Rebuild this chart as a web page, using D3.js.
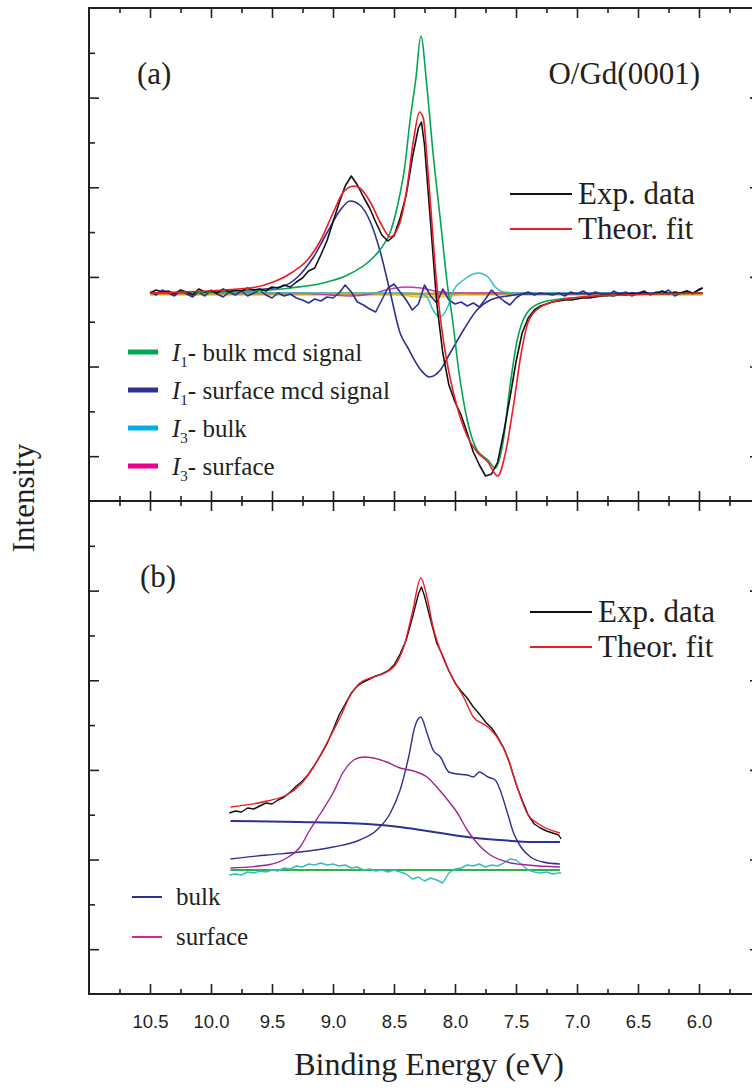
<!DOCTYPE html>
<html>
<head>
<meta charset="utf-8">
<script src="https://cdn.jsdelivr.net/npm/d3@7"></script>
<style>
body { margin: 0; background: #fff; }
svg { display: block; }
.serif { font-family: "Liberation Serif", "Times New Roman", serif; fill: #231f20; }
.ticklab text { font-family: "Liberation Sans", Arial, sans-serif; font-size: 18.5px; fill: #231f20; }
</style>
</head>
<body>
<script>
// ---- data (energies in eV, intensities in arb. units) ----
var xMajor = [10.5, 10.0, 9.5, 9.0, 8.5, 8.0, 7.5, 7.0, 6.5, 6.0];
var xMinor = [10.75, 10.25, 9.75, 9.25, 8.75, 8.25, 7.75, 7.25, 6.75, 6.25, 5.75];
var xTickLabels = ["10.5", "10.0", "9.5", "9.0", "8.5", "8.0", "7.5", "7.0", "6.5", "6.0"];

// panel (a): MCD
var energyTop = [10.50, 10.45, 10.40, 10.35, 10.30, 10.25, 10.20, 10.15, 10.10, 10.05,
    10.00, 9.95, 9.90, 9.85, 9.80, 9.75, 9.70, 9.65, 9.60, 9.55,
    9.50, 9.45, 9.40, 9.35, 9.30, 9.25, 9.20, 9.15, 9.10, 9.05,
    9.00, 8.95, 8.90, 8.85, 8.80, 8.75, 8.70, 8.65, 8.60, 8.55,
    8.50, 8.45, 8.40, 8.35, 8.30, 8.275, 8.25, 8.20, 8.15, 8.10, 8.05,
    8.00, 7.95, 7.90, 7.85, 7.80, 7.75, 7.70, 7.65, 7.60, 7.55,
    7.50, 7.45, 7.40, 7.35, 7.30, 7.25, 7.20, 7.15, 7.10, 7.05,
    7.00, 6.95, 6.90, 6.85, 6.80, 6.75, 6.70, 6.65, 6.60, 6.55,
    6.50, 6.45, 6.40, 6.35, 6.30, 6.25, 6.20, 6.15, 6.10, 6.05,
    6.00, 5.97];
var expTop = [0.00, 0.03, 0.01, 0.02, -0.01, 0.03, 0.01, -0.02, 0.04, 0.01,
    0.02, 0.00, 0.04, 0.01, 0.03, 0.02, 0.05, 0.03, 0.04, 0.02,
    0.06, 0.05, 0.08, 0.06, 0.11, 0.15, 0.22, 0.25, 0.38, 0.52,
    0.71, 0.90, 1.07, 1.17, 1.08, 0.96, 0.85, 0.71, 0.58, 0.52,
    0.57, 0.75, 0.98, 1.35, 1.65, 1.71, 1.48, 0.70, -0.10, -0.60, -0.92,
    -1.09, -1.22, -1.40, -1.59, -1.72, -1.83, -1.81, -1.69, -1.39, -1.05,
    -0.69, -0.40, -0.25, -0.17, -0.13, -0.11, -0.09, -0.08, -0.07, -0.07,
    -0.06, -0.05, -0.05, -0.04, -0.03, -0.02, -0.03, -0.01, -0.02, 0.00,
    -0.01, 0.01, -0.01, 0.00, 0.02, -0.01, 0.01, 0.00, 0.02, 0.00,
    0.03, 0.05];
var residTop = [0.01, -0.02, 0.03, 0.00, -0.03, 0.02, -0.01, -0.04, 0.01, -0.03,
    0.03, -0.01, -0.04, 0.01, -0.02, 0.02, -0.03, 0.00, 0.03, -0.02,
    -0.05, 0.00, -0.03, -0.01, -0.05, -0.07, -0.10, -0.06, -0.08, -0.04,
    -0.05, 0.00, 0.08, 0.01, -0.09, -0.12, -0.16, -0.19, -0.07, 0.05,
    0.09, 0.01, -0.07, -0.17, -0.11, -0.02, 0.08, -0.03, -0.10, 0.04, -0.07,
    -0.11, -0.09, -0.13, -0.10, -0.14, -0.06, 0.03, -0.03, -0.08, -0.12,
    -0.05, -0.01, 0.01, -0.02, 0.00, -0.01, -0.02, 0.00, -0.03, 0.01,
    -0.01, 0.02, -0.02, 0.01, -0.01, -0.03, 0.02, -0.01, 0.01, -0.03,
    0.00, 0.02, -0.02, 0.01, -0.01, 0.03, -0.03, 0.00, 0.02, -0.01,
    0.04, 0.05];

var fitTopE = [10.50, 9.68, 9.49, 9.33, 9.21, 9.10, 9.00, 8.92, 8.83, 8.78, 8.69, 8.61, 8.53, 8.45, 8.39, 8.34, 8.29, 8.26, 8.23, 8.20,
    8.16, 8.12, 8.08, 8.04, 7.98, 7.90, 7.82, 7.73, 7.65, 7.59, 7.52, 7.46, 7.40, 7.30, 7.14, 6.97, 6.64, 5.97];
var fitTopV = [0.00, 0.05, 0.11, 0.21, 0.33, 0.53, 0.80, 1.00, 1.07, 1.05, 0.90, 0.70, 0.56, 0.71, 1.08, 1.53, 1.81, 1.75, 1.35, 0.88,
    0.23, -0.25, -0.59, -0.85, -1.15, -1.43, -1.59, -1.69, -1.83, -1.62, -1.12, -0.62, -0.29, -0.14, -0.07, -0.04, -0.02, 0.00];

var i1BulkE = [10.50, 9.68, 9.35, 9.08, 8.88, 8.72, 8.61, 8.53, 8.47, 8.41, 8.37, 8.32, 8.28, 8.23, 8.18, 8.12,
    8.06, 8.02, 7.97, 7.90, 7.82, 7.73, 7.67, 7.60, 7.55, 7.49, 7.41, 7.30, 7.14, 6.91, 6.64, 5.97];
var i1BulkV = [0.00, 0.02, 0.05, 0.10, 0.18, 0.30, 0.44, 0.61, 0.88, 1.28, 1.71, 2.15, 2.57, 2.06, 1.40, 0.73,
    0.06, -0.27, -0.77, -1.27, -1.57, -1.67, -1.75, -1.44, -0.94, -0.47, -0.20, -0.10, -0.06, -0.04, -0.02, 0.00];

var i1SurfE = [10.50, 9.68, 9.43, 9.29, 9.16, 9.05, 8.94, 8.86, 8.78, 8.69, 8.61, 8.53, 8.45, 8.39, 8.28, 8.21,
    8.12, 8.04, 7.93, 7.82, 7.71, 7.57, 7.41, 5.97];
var i1SurfV = [0.00, 0.03, 0.06, 0.16, 0.36, 0.60, 0.83, 0.92, 0.88, 0.70, 0.40, 0.00, -0.40, -0.54, -0.77, -0.84,
    -0.77, -0.60, -0.37, -0.17, -0.07, -0.03, -0.01, 0.00];

var i3BulkE = [10.50, 8.45, 8.28, 8.23, 8.18, 8.12, 8.06, 8.01, 7.93, 7.81, 7.73, 7.67, 7.60, 7.46, 5.97];
var i3BulkV = [0.00, 0.00, -0.01, -0.04, -0.17, -0.24, -0.14, 0.03, 0.13, 0.20, 0.16, 0.06, 0.01, 0.00, 0.00];

var i3SurfE = [10.50, 9.27, 9.02, 8.86, 8.69, 8.53, 8.41, 8.28, 8.12, 7.97, 5.97];
var i3SurfV = [0.00, 0.00, -0.02, -0.03, -0.01, 0.04, 0.06, 0.05, 0.01, 0.00, 0.00];

var otherE = [10.50, 8.61, 8.45, 8.28, 8.12, 7.97, 7.82, 5.97];
var otherV = [0.00, 0.00, -0.02, -0.04, -0.04, -0.02, 0.00, 0.00];

var baseTopE = [10.50, 5.97];
var baseTopV = [-0.01, -0.01];

// panel (b): photoemission spectrum
var energyBot = [9.85, 9.80, 9.75, 9.70, 9.65, 9.60, 9.55, 9.50, 9.45, 9.40,
    9.35, 9.30, 9.25, 9.20, 9.15, 9.10, 9.05, 9.00, 8.95, 8.90,
    8.85, 8.80, 8.75, 8.70, 8.65, 8.60, 8.55, 8.50, 8.45, 8.40,
    8.35, 8.30, 8.275, 8.25, 8.20, 8.15, 8.10, 8.05, 8.00, 7.95,
    7.90, 7.85, 7.80, 7.75, 7.70, 7.65, 7.60, 7.55, 7.50, 7.45,
    7.40, 7.35, 7.30, 7.25, 7.20, 7.15, 7.13];
var expBot = [0.57, 0.59, 0.58, 0.62, 0.61, 0.64, 0.67, 0.66, 0.70, 0.73,
    0.78, 0.84, 0.89, 0.96, 1.05, 1.15, 1.26, 1.40, 1.55, 1.66,
    1.77, 1.84, 1.88, 1.91, 1.94, 1.96, 1.99, 2.05, 2.16, 2.30,
    2.52, 2.76, 2.83, 2.74, 2.50, 2.27, 2.14, 1.99, 1.87, 1.79,
    1.72, 1.63, 1.56, 1.48, 1.42, 1.33, 1.22, 1.06, 0.86, 0.70,
    0.55, 0.46, 0.42, 0.39, 0.37, 0.35, 0.31];
var residBot = [-0.05, -0.04, -0.05, -0.02, -0.03, -0.01, -0.02, 0.00, -0.01, 0.02,
    0.01, 0.04, 0.03, 0.06, 0.05, 0.07, 0.05, 0.06, 0.04, 0.05,
    0.02, 0.03, 0.00, 0.01, -0.01, 0.00, -0.02, 0.00, -0.02, -0.04,
    -0.09, -0.07, -0.09, -0.11, -0.08, -0.10, -0.13, -0.03, 0.01, 0.02,
    0.05, 0.04, 0.06, 0.03, 0.05, 0.04, 0.07, 0.11, 0.10, 0.05,
    0.00, -0.02, -0.03, -0.02, -0.04, -0.03, -0.03];

var fitBotE = [9.84, 9.54, 9.38, 9.27, 9.16, 9.05, 8.94, 8.86, 8.78, 8.67, 8.56, 8.49, 8.42, 8.35, 8.28, 8.23, 8.18, 8.10,
    8.01, 7.93, 7.85, 7.73, 7.65, 7.57, 7.49, 7.41, 7.30, 7.14];
var fitBotV = [0.63, 0.69, 0.75, 0.85, 1.03, 1.27, 1.53, 1.74, 1.87, 1.93, 1.98, 2.05, 2.23, 2.57, 2.92, 2.73, 2.43, 2.13,
    1.90, 1.73, 1.53, 1.43, 1.32, 1.13, 0.83, 0.57, 0.45, 0.37];

var bulkBotE = [9.84, 9.54, 9.27, 9.00, 8.78, 8.64, 8.53, 8.45, 8.38, 8.33, 8.28, 8.23, 8.18, 8.12, 8.05, 7.98, 7.90, 7.85,
    7.80, 7.73, 7.67, 7.63, 7.57, 7.52, 7.46, 7.38, 7.28, 7.14];
var bulkBotV = [0.11, 0.15, 0.18, 0.23, 0.30, 0.40, 0.57, 0.80, 1.13, 1.43, 1.53, 1.37, 1.20, 1.13, 0.98, 0.96, 0.95, 0.93,
    0.98, 0.93, 0.90, 0.80, 0.57, 0.37, 0.23, 0.13, 0.08, 0.06];

var surfBotE = [9.84, 9.54, 9.38, 9.27, 9.19, 9.10, 9.00, 8.92, 8.83, 8.75, 8.67, 8.56, 8.45, 8.34, 8.23, 8.15, 8.06, 7.98,
    7.90, 7.82, 7.71, 7.57, 7.41, 7.14];
var surfBotV = [0.02, 0.05, 0.12, 0.23, 0.40, 0.57, 0.77, 0.97, 1.10, 1.13, 1.12, 1.08, 1.02, 0.99, 0.93, 0.83, 0.70, 0.57,
    0.40, 0.27, 0.15, 0.08, 0.05, 0.03];

var bgBotE = [9.84, 9.27, 8.72, 8.45, 8.28, 8.12, 7.90, 7.63, 7.36, 7.14];
var bgBotV = [0.49, 0.48, 0.46, 0.43, 0.40, 0.37, 0.33, 0.30, 0.28, 0.28];

var zeroBotE = [9.84, 7.14];
var zeroBotV = [0.00, 0.00];

var fitLegend = ["Exp. data", "Theor. fit"];
var mcdLegend = [["1", "- bulk mcd signal"], ["1", "- surface mcd signal"], ["3", "- bulk"], ["3", "- surface"]];
var specLegend = ["bulk", "surface"];

// ---- drawing ----
var width = 752;
var height = 1090;
var svg = d3.select("body").append("svg").attr("width", width).attr("height", height);

var ink = "#231f20";
var x = d3.scaleLinear().domain([11.0, 5.5]).range([89, 760]);
var yTop = d3.scaleLinear().domain([-2.08, 2.85]).range([501, 8]);
var yBot = d3.scaleLinear().domain([-1.24, 3.69]).range([994, 501]);

function drawCurve(y, es, vs, color, w, curve) {
    var line = d3.line()
        .x(function (d) { return x(d[0]); })
        .y(function (d) { return y(d[1]); })
        .curve(curve || d3.curveLinear);
    svg.append("path")
        .datum(d3.zip(es, vs))
        .attr("fill", "none")
        .attr("stroke", color)
        .attr("stroke-width", w)
        .attr("stroke-linejoin", "round")
        .attr("d", line);
}

var smooth = d3.curveMonotoneX;

// panel (a)
drawCurve(yTop, baseTopE, baseTopV, "#d39a2c", 3);
drawCurve(yTop, otherE, otherV, "#d8c820", 1.3, smooth);
drawCurve(yTop, i3SurfE, i3SurfV, "#c235b5", 1.4, smooth);
drawCurve(yTop, i3BulkE, i3BulkV, "#34c0c8", 1.6, smooth);
drawCurve(yTop, energyTop, residTop, "#2e3192", 1.6);
drawCurve(yTop, i1SurfE, i1SurfV, "#2e3192", 1.6, smooth);
drawCurve(yTop, i1BulkE, i1BulkV, "#00a651", 1.6, smooth);
drawCurve(yTop, energyTop, expTop, "#111", 1.6);
drawCurve(yTop, fitTopE, fitTopV, "#ed1c24", 1.6, smooth);

// panel (b)
drawCurve(yBot, zeroBotE, zeroBotV, "#2db34a", 2);
drawCurve(yBot, energyBot, residBot, "#35bcbc", 1.4);
drawCurve(yBot, bgBotE, bgBotV, "#2e3192", 2, smooth);
drawCurve(yBot, bulkBotE, bulkBotV, "#2e3192", 1.4, smooth);
drawCurve(yBot, surfBotE, surfBotV, "#a3238e", 1.4, smooth);
drawCurve(yBot, energyBot, expBot, "#111", 1.4);
drawCurve(yBot, fitBotE, fitBotV, "#ed1c24", 1.4, smooth);

// frames
[[8, 501], [501, 994]].forEach(function (p) {
    svg.append("rect")
        .attr("x", x(11.0)).attr("y", p[0])
        .attr("width", x(5.5) - x(11.0)).attr("height", p[1] - p[0])
        .attr("fill", "none").attr("stroke", ink).attr("stroke-width", 2);
});

function styleAxis(g) {
    g.select(".domain").remove();
    g.selectAll(".tick line").attr("stroke", ink).attr("stroke-width", 1.6);
}

// x ticks: top border, divider (both ways), bottom border
function xTicks(y0, make, len) {
    svg.append("g").attr("transform", "translate(0," + y0 + ")")
        .call(make(x).tickValues(xMajor).tickSize(len).tickFormat(""))
        .call(styleAxis);
    svg.append("g").attr("transform", "translate(0," + y0 + ")")
        .call(make(x).tickValues(xMinor).tickSize(len / 2).tickFormat(""))
        .call(styleAxis);
}
xTicks(8, d3.axisBottom, 10);
xTicks(501, d3.axisBottom, 10);
xTicks(501, d3.axisTop, 10);
xTicks(994, d3.axisTop, 10);

svg.append("g").attr("class", "ticklab").attr("transform", "translate(0,994)")
    .call(d3.axisBottom(x).tickValues(xMajor).tickSize(0).tickPadding(21)
        .tickFormat(function (d, i) { return xTickLabels[i]; }))
    .call(function (g) { g.select(".domain").remove(); });

// y ticks: 11 divisions per panel, odd ones long
function yTicks(y) {
    var d = y.domain();
    var all = d3.range(1, 11).map(function (k) { return d[0] + k * (d[1] - d[0]) / 11; });
    var major = all.filter(function (v, i) { return i % 2 === 0; });
    var minor = all.filter(function (v, i) { return i % 2 === 1; });
    [[d3.axisRight, x(11.0)], [d3.axisLeft, x(5.5)]].forEach(function (s) {
        svg.append("g").attr("transform", "translate(" + s[1] + ",0)")
            .call(s[0](y).tickValues(major).tickSize(10).tickFormat(""))
            .call(styleAxis);
        svg.append("g").attr("transform", "translate(" + s[1] + ",0)")
            .call(s[0](y).tickValues(minor).tickSize(6).tickFormat(""))
            .call(styleAxis);
    });
}
yTicks(yTop);
yTicks(yBot);

// titles
svg.append("text").attr("class", "serif").attr("x", 429).attr("y", 1075)
    .attr("text-anchor", "middle").style("font-size", "32px").text("Binding Energy (eV)");
svg.append("text").attr("class", "serif")
    .attr("transform", "translate(34,498) rotate(-90)")
    .attr("text-anchor", "middle").style("font-size", "31px").text("Intensity");

svg.append("text").attr("class", "serif").attr("x", 137).attr("y", 84)
    .style("font-size", "31px").text("(a)");
svg.append("text").attr("class", "serif").attr("x", 140).attr("y", 587)
    .style("font-size", "31px").text("(b)");
svg.append("text").attr("class", "serif").attr("x", 700).attr("y", 84)
    .attr("text-anchor", "end").style("font-size", "31px").text("O/Gd(0001)");

// fit legends
var fitColors = ["#111", "#ed1c24"];
function fitLegendAt(x0, y0) {
    fitLegend.forEach(function (t, i) {
        var yy = y0 + i * 35;
        svg.append("line").attr("x1", x0).attr("x2", x0 + 62).attr("y1", yy).attr("y2", yy)
            .attr("stroke", fitColors[i]).attr("stroke-width", 2);
        svg.append("text").attr("class", "serif").attr("x", x0 + 68).attr("y", yy + 10)
            .style("font-size", "31px").text(t);
    });
}
fitLegendAt(510, 194);
fitLegendAt(530, 612);

// mcd legend
var mcdColors = ["#00a651", "#2e3192", "#00aeef", "#ec008c"];
mcdLegend.forEach(function (t, i) {
    var yy = 352 + i * 38;
    svg.append("line").attr("x1", 128).attr("x2", 158).attr("y1", yy).attr("y2", yy)
        .attr("stroke", mcdColors[i]).attr("stroke-width", 5);
    var txt = svg.append("text").attr("class", "serif").attr("x", 172).attr("y", yy + 9)
        .style("font-size", "25px");
    txt.append("tspan").style("font-style", "italic").text("I");
    txt.append("tspan").attr("dy", 6).style("font-size", "15px").text(t[0]);
    txt.append("tspan").attr("dy", -6).text(t[1]);
});

// component legend
var specColors = ["#2e3192", "#e0209a"];
specLegend.forEach(function (t, i) {
    var yy = 897 + i * 40;
    svg.append("line").attr("x1", 132).attr("x2", 162).attr("y1", yy).attr("y2", yy)
        .attr("stroke", specColors[i]).attr("stroke-width", 2);
    svg.append("text").attr("class", "serif").attr("x", 176).attr("y", yy + 8)
        .style("font-size", "25px").text(t);
});
</script>
</body>
</html>
